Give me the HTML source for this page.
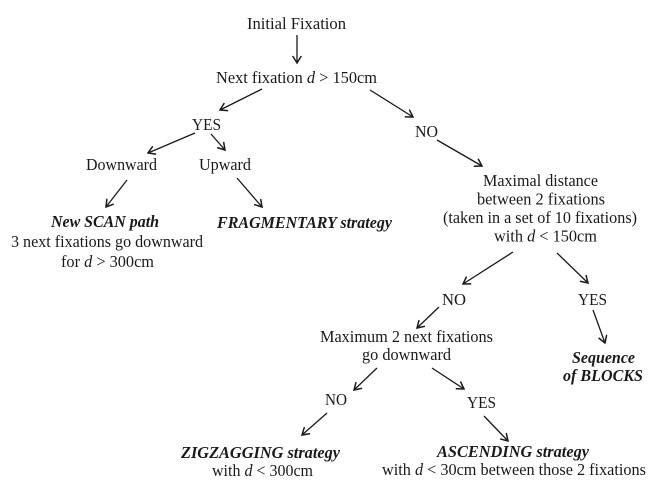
<!DOCTYPE html>
<html>
<head>
<meta charset="utf-8">
<style>
html,body{margin:0;padding:0;background:#fff;}
svg{display:block;}
text{font-family:"Liberation Serif","DejaVu Serif",serif;font-size:16.5px;fill:#1a1a1a;}
.b{font-weight:bold;font-style:italic;}
</style>
</head>
<body>
<svg width="661" height="490" viewBox="0 0 661 490" xmlns="http://www.w3.org/2000/svg">
<defs>
<marker id="ah" markerUnits="userSpaceOnUse" markerWidth="12" markerHeight="12" refX="7.5" refY="5" orient="auto">
<path d="M1,1 L7.5,5 L1,9" fill="none" stroke="#1a1a1a" stroke-width="1.5" stroke-linejoin="miter" stroke-linecap="round"/>
</marker>
</defs>
<g stroke="#1a1a1a" stroke-width="1.3" fill="none" marker-end="url(#ah)">
<line x1="297" y1="35" x2="297" y2="63"/>
<line x1="262" y1="89" x2="220" y2="110"/>
<line x1="195" y1="133" x2="148" y2="153"/>
<line x1="211" y1="134" x2="225" y2="150"/>
<line x1="127" y1="180" x2="106" y2="207"/>
<line x1="237" y1="178" x2="262" y2="207"/>
<line x1="370" y1="90" x2="413" y2="117"/>
<line x1="437" y1="140" x2="482" y2="166"/>
<line x1="513" y1="252" x2="463" y2="284"/>
<line x1="557" y1="253" x2="588" y2="283"/>
<line x1="439" y1="307" x2="417" y2="328"/>
<line x1="593" y1="310" x2="605" y2="343"/>
<line x1="377" y1="368" x2="354" y2="390"/>
<line x1="432" y1="368" x2="464" y2="389"/>
<line x1="327" y1="413" x2="302" y2="435"/>
<line x1="484" y1="416" x2="508" y2="441"/>
</g>
<g text-anchor="middle">
<text x="296.5" y="29" textLength="99" lengthAdjust="spacingAndGlyphs">Initial Fixation</text>
<text x="296.5" y="83" textLength="161" lengthAdjust="spacingAndGlyphs">Next fixation <tspan font-style="italic">d</tspan> &gt; 150cm</text>
<text x="206.5" y="130" textLength="29" lengthAdjust="spacingAndGlyphs">YES</text>
<text x="426.5" y="137" textLength="23" lengthAdjust="spacingAndGlyphs">NO</text>
<text x="121.5" y="170" textLength="71" lengthAdjust="spacingAndGlyphs">Downward</text>
<text x="225" y="170" textLength="52" lengthAdjust="spacingAndGlyphs">Upward</text>
<text class="b" x="105" y="227" textLength="108" lengthAdjust="spacingAndGlyphs">New SCAN path</text>
<text x="107" y="247" textLength="192" lengthAdjust="spacingAndGlyphs">3 next fixations go downward</text>
<text x="107.5" y="267" textLength="93" lengthAdjust="spacingAndGlyphs">for <tspan font-style="italic">d</tspan> &gt; 300cm</text>
<text class="b" x="304.5" y="228" textLength="175" lengthAdjust="spacingAndGlyphs">FRAGMENTARY strategy</text>
<text x="540.5" y="186" textLength="115" lengthAdjust="spacingAndGlyphs">Maximal distance</text>
<text x="541" y="204.5" textLength="128" lengthAdjust="spacingAndGlyphs">between 2 fixations</text>
<text x="540" y="223" textLength="194" lengthAdjust="spacingAndGlyphs">(taken in a set of 10 fixations)</text>
<text x="545.5" y="241.5" textLength="103" lengthAdjust="spacingAndGlyphs">with <tspan font-style="italic">d</tspan> &lt; 150cm</text>
<text x="454" y="305" textLength="24" lengthAdjust="spacingAndGlyphs">NO</text>
<text x="592.5" y="305" textLength="29" lengthAdjust="spacingAndGlyphs">YES</text>
<text x="406.5" y="342" textLength="173" lengthAdjust="spacingAndGlyphs">Maximum 2 next fixations</text>
<text x="406.5" y="360" textLength="89" lengthAdjust="spacingAndGlyphs">go downward</text>
<text class="b" x="603.5" y="363" textLength="63" lengthAdjust="spacingAndGlyphs">Sequence</text>
<text class="b" x="603" y="381" textLength="80" lengthAdjust="spacingAndGlyphs">of BLOCKS</text>
<text x="336" y="405" textLength="22" lengthAdjust="spacingAndGlyphs">NO</text>
<text x="481.5" y="408" textLength="29" lengthAdjust="spacingAndGlyphs">YES</text>
<text class="b" x="260.5" y="458" textLength="159" lengthAdjust="spacingAndGlyphs">ZIGZAGGING strategy</text>
<text x="262.5" y="476" textLength="101" lengthAdjust="spacingAndGlyphs">with <tspan font-style="italic">d</tspan> &lt; 300cm</text>
<text class="b" x="513" y="457" textLength="152" lengthAdjust="spacingAndGlyphs">ASCENDING strategy</text>
<text x="514" y="475" textLength="264" lengthAdjust="spacingAndGlyphs">with <tspan font-style="italic">d</tspan> &lt; 30cm between those 2 fixations</text>
</g>
</svg>
</body>
</html>
